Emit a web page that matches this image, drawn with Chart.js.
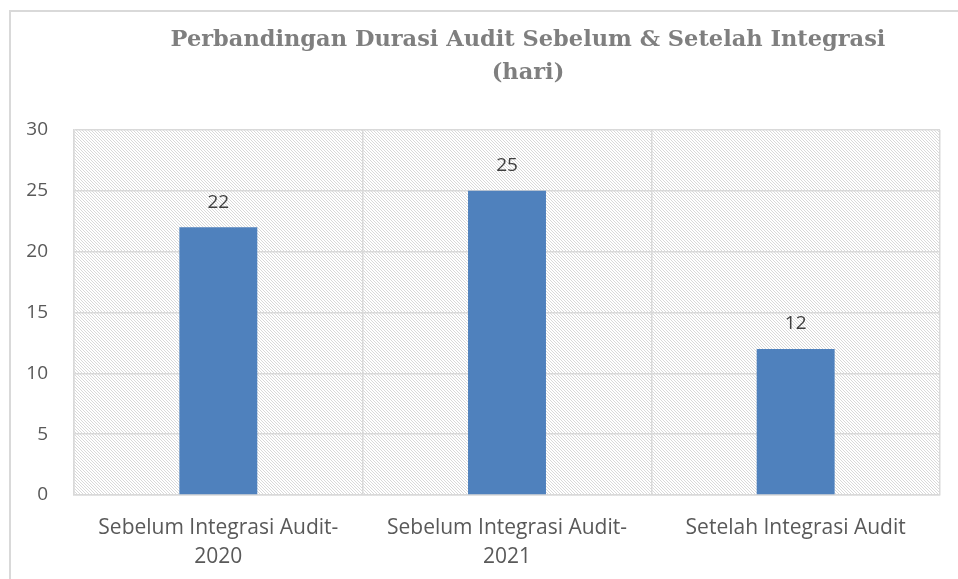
<!DOCTYPE html>
<html lang="id">
<head>
    <meta charset="UTF-8">
    <title>Perbandingan Durasi Audit</title>
    <script src="https://cdn.jsdelivr.net/npm/chart.js"></script>
</head>
<style>
    body { margin: 0; background: white; }
    .chartBox { width: 958px; height: 579px; position: relative; }
</style>
<body>
<div class="chartBox">
    <canvas id="auditChart"></canvas>
</div>
<script>
    const categories = [
        ['Sebelum Integrasi Audit-', '2020'],
        ['Sebelum Integrasi Audit-', '2021'],
        'Setelah Integrasi Audit'
    ];
    const durasiHari = [22, 25, 12];
    const titleLines = ['Perbandingan Durasi Audit Sebelum & Setelah Integrasi', '(hari)'];

    // pola arsiran diagonal di area plot
    function makeHatch() {
        const c = document.createElement('canvas');
        c.width = 6; c.height = 6;
        const p = c.getContext('2d');
        p.fillStyle = 'white';
        p.fillRect(0, 0, 6, 6);
        p.fillStyle = '#d9d9d9';
        for (let i = 0; i < 6; i += 2) {
            p.fillRect(i, i, 1, 1);
            p.fillRect((i + 3) % 6, i, 1, 1);
            p.fillRect(i + 1, i + 1, 1, 1);
            p.fillRect((i + 4) % 6, i + 1, 1, 1);
        }
        return c;
    }

    const decor = {
        id: 'decor',
        beforeDraw(chart) {
            const { ctx, chartArea: a } = chart;
            ctx.save();
            ctx.fillStyle = ctx.createPattern(makeHatch(), 'repeat');
            ctx.fillRect(a.left, a.top, a.right - a.left, a.bottom - a.top);
            ctx.strokeStyle = '#d9d9d9';
            ctx.lineWidth = 2;
            ctx.strokeRect(10, 11, 980, 620);
            ctx.restore();
        },
        afterDraw(chart) {
            const ctx = chart.ctx;
            ctx.save();
            ctx.fillStyle = '#7f7f7f';
            ctx.font = 'bold 22.5px "DejaVu Serif"';
            ctx.textAlign = 'center';
            ctx.textBaseline = 'middle';
            ctx.fillText(titleLines[0], 528, 40);
            ctx.fillText(titleLines[1], 528, 73);
            // label nilai di atas batang
            ctx.fillStyle = '#404040';
            ctx.font = '19px "Open Sans"';
            chart.getDatasetMeta(0).data.forEach((bar, i) => {
                ctx.fillText(durasiHari[i], bar.x, bar.y - 25);
            });
            ctx.restore();
        }
    };

    new Chart(document.getElementById('auditChart'), {
        type: 'bar',
        data: {
            labels: categories,
            datasets: [{
                data: durasiHari,
                backgroundColor: '#4f81bd',
                barPercentage: 0.27,
                categoryPercentage: 1
            }]
        },
        options: {
            responsive: true,
            maintainAspectRatio: false,
            animation: false,
            layout: { padding: { top: 130, right: 18, left: 0, bottom: 0 } },
            plugins: {
                legend: { display: false },
                tooltip: { enabled: false }
            },
            scales: {
                x: {
                    afterFit: (s) => { s.height = 84; },
                    grid: { color: '#d9d9d9', lineWidth: 1.5, drawTicks: false },
                    border: { color: '#d9d9d9', width: 1.5 },
                    ticks: { color: '#595959', font: { family: 'Open Sans', size: 21, lineHeight: 1.35 }, padding: 19, maxRotation: 0 }
                },
                y: {
                    min: 0, max: 30,
                    afterFit: (s) => { s.width = 74; },
                    grid: { color: '#d9d9d9', lineWidth: 1.5, drawTicks: false },
                    border: { color: '#d9d9d9', width: 1.5 },
                    ticks: { stepSize: 5, color: '#595959', font: { family: 'Open Sans', size: 19 }, padding: 26 }
                }
            }
        },
        plugins: [decor]
    });
</script>
</body>
</html>
